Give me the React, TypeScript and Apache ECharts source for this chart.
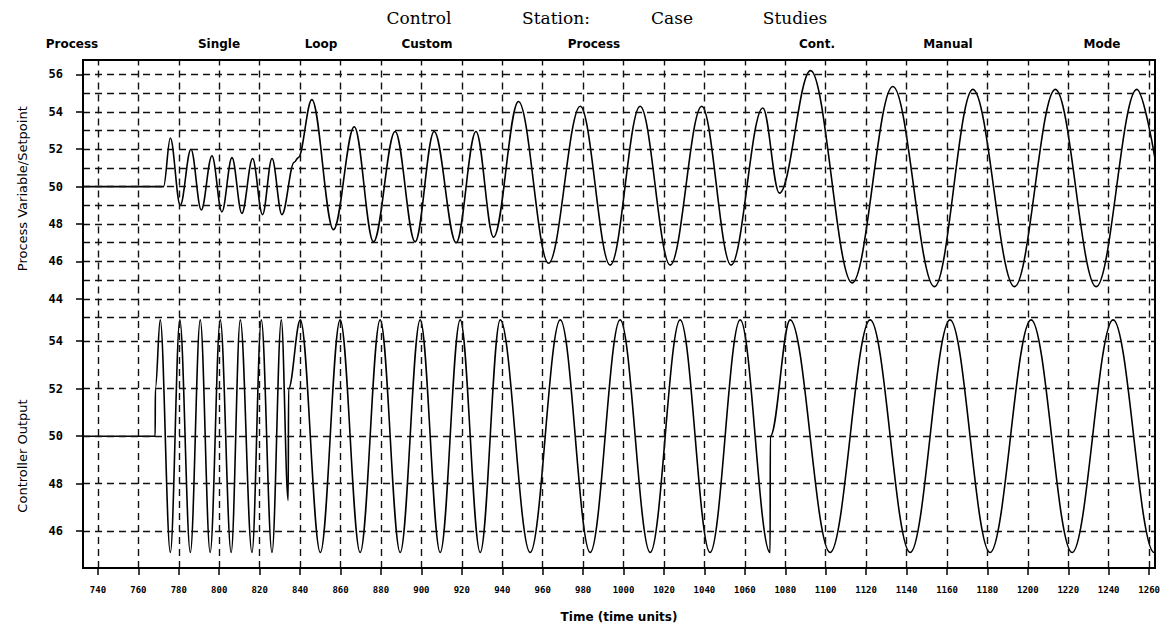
import { useEffect, useRef } from "react";
import * as echarts from "echarts";

// Time axis (time units)
const timeTicks = [
  740, 760, 780, 800, 820, 840, 860, 880, 900, 920, 940, 960, 980, 1000, 1020,
  1040, 1060, 1080, 1100, 1120, 1140, 1160, 1180, 1200, 1220, 1240, 1260,
];
const timeMin = 732.6;
const timeMax = 1262.9;

// Process variable / setpoint trace (upper panel)
const pvTime = [
  732.6, 772.45, 775.8, 780.7, 786.0, 791.1, 796.4, 801.3, 806.3, 811.2, 816.5,
  821.4, 826.1, 831.0, 837.1, 839.1, 845.8, 856.5, 866.8, 876.3, 887.0, 896.9,
  906.3, 917.2, 927.0, 935.7, 948.0, 962.9, 978.6, 993.4, 1008.2, 1023.1,
  1038.7, 1053.2, 1068.9, 1077.1, 1092.5, 1113.1, 1133.2, 1153.8, 1172.8,
  1193.4, 1213.6, 1233.8, 1253.9, 1262.9,
];
const pvValue = [
  50, 50, 52.6, 49.0, 52.0, 48.75, 51.65, 48.65, 51.55, 48.57, 51.5, 48.5,
  51.5, 48.5, 51.3, 51.55, 54.65, 47.7, 53.2, 47.05, 52.95, 47.05, 52.95, 47.0,
  52.95, 47.3, 54.55, 45.9, 54.3, 45.8, 54.3, 45.8, 54.3, 45.8, 54.2, 49.65,
  56.2, 44.85, 55.35, 44.65, 55.2, 44.65, 55.2, 44.65, 55.2, 51.5,
];

// Controller output trace (lower panel)
const coTime = [
  732.6, 768.3, 768.4, 770.8, 775.8, 780.5, 785.7, 790.6, 795.5, 800.5, 805.9,
  810.4, 816.2, 820.8, 826.1, 830.7, 834.1, 834.3, 840.1, 850.0, 859.8, 869.7,
  879.6, 889.5, 899.4, 909.3, 919.2, 929.1, 939.0, 953.8, 968.7, 983.5, 998.3,
  1013.2, 1028.0, 1042.8, 1057.7, 1072.5, 1072.6, 1082.4, 1102.2, 1122.0,
  1141.8, 1161.5, 1181.3, 1201.6, 1221.9, 1242.2, 1262.5, 1262.9,
];
const coValue = [
  50, 50, 52.0, 54.9, 45.1, 54.9, 45.1, 54.9, 45.1, 54.9, 45.1, 54.9, 45.1,
  54.9, 45.1, 54.9, 47.3, 52.0, 54.9, 45.1, 54.9, 45.1, 54.9, 45.1, 54.9, 45.1,
  54.9, 45.1, 54.9, 45.1, 54.9, 45.1, 54.9, 45.1, 54.9, 45.1, 54.9, 45.1, 50,
  54.9, 45.1, 54.9, 45.1, 54.9, 45.1, 54.9, 45.1, 54.9, 45.1, 45.1,
];

// Value-axis grid lines and labels
const pvGridValues = [43, 44, 45, 46, 47, 48, 49, 50, 51, 52, 53, 54, 55, 56];
const pvLabelValues = [44, 46, 48, 50, 52, 54, 56];
const pvMin = 43;
const pvMax = 56.77;
const coGridValues = [46, 48, 50, 52, 54];
const coLabelValues = [46, 48, 50, 52, 54];
const coMin = 44.45;
const coMax = 55;

// Header words
const titleWords = ["Control", "Station:", "Case", "Studies"];
const subtitleWords = ["Process", "Single", "Loop", "Custom", "Process"];
const modeWords = ["Cont.", "Manual", "Mode"];

// Layout (px)
const W = 1176;
const H = 628;
const PLOT_LEFT = 83;
const PLOT_RIGHT = 1155;
const PLOT_TOP = 60;
const PANEL_SPLIT = 317.5;
const PLOT_BOTTOM = 568;
const titleX = [419, 556, 672, 795];
const subtitleX = [72, 219, 321, 427, 594];
const modeX = [817, 948, 1102];

const INK = "#000";
const gridDash = { type: [7, 5] as number[], color: "#111", width: 1.4 };

const tickLabelFont = {
  fontFamily: "DejaVu Sans Mono",
  fontWeight: "bold" as const,
  color: INK,
};

function gridMarks(yValues: number[]) {
  return {
    silent: true,
    symbol: ["none", "none"],
    label: { show: false },
    emphasis: { disabled: true },
    lineStyle: gridDash,
    data: [
      ...timeTicks.map((t) => ({ xAxis: t })),
      ...yValues.map((v) => ({ yAxis: v })),
    ],
  };
}

function wordTexts(words: string[], xs: number[], y: number, font: string) {
  return words.map((w, i) => ({
    type: "text",
    x: xs[i],
    y,
    style: {
      text: w,
      font,
      fill: INK,
      textAlign: "center",
      textVerticalAlign: "middle",
    },
  }));
}

export default function App() {
  const ref = useRef<HTMLDivElement>(null);

  useEffect(() => {
    if (!ref.current) return;
    const chart = echarts.init(ref.current, undefined, { renderer: "svg" });

    const upperHeight = PANEL_SPLIT - PLOT_TOP;
    const lowerHeight = PLOT_BOTTOM - PANEL_SPLIT;

    chart.setOption({
      animation: false,
      backgroundColor: "#fff",
      grid: [
        {
          left: PLOT_LEFT,
          right: W - PLOT_RIGHT,
          top: PLOT_TOP,
          height: upperHeight,
        },
        {
          left: PLOT_LEFT,
          right: W - PLOT_RIGHT,
          top: PANEL_SPLIT,
          height: lowerHeight,
        },
      ],
      xAxis: [
        {
          gridIndex: 0,
          type: "value",
          min: timeMin,
          max: timeMax,
          axisLine: { show: false },
          axisTick: { show: false },
          axisLabel: { show: false },
          splitLine: { show: false },
        },
        {
          gridIndex: 1,
          type: "value",
          min: timeMin,
          max: timeMax,
          axisLine: { show: false },
          axisTick: {
            show: true,
            length: 7,
            customValues: timeTicks,
            lineStyle: { color: INK, width: 1.5 },
          },
          axisLabel: {
            customValues: timeTicks,
            formatter: (v: number) => String(v),
            margin: 17,
            fontSize: 9,
            ...tickLabelFont,
          },
          splitLine: { show: false },
        },
      ],
      yAxis: [
        {
          gridIndex: 0,
          type: "value",
          min: pvMin,
          max: pvMax,
          axisLine: { show: false },
          axisTick: {
            show: true,
            length: 7,
            customValues: pvLabelValues,
            lineStyle: { color: INK, width: 1.5 },
          },
          axisLabel: {
            customValues: pvLabelValues,
            formatter: (v: number) => String(v),
            margin: 20,
            fontSize: 12,
            ...tickLabelFont,
          },
          splitLine: { show: false },
        },
        {
          gridIndex: 1,
          type: "value",
          min: coMin,
          max: coMax,
          axisLine: { show: false },
          axisTick: {
            show: true,
            length: 7,
            customValues: coLabelValues,
            lineStyle: { color: INK, width: 1.5 },
          },
          axisLabel: {
            customValues: coLabelValues,
            formatter: (v: number) => String(v),
            margin: 20,
            fontSize: 12,
            ...tickLabelFont,
          },
          splitLine: { show: false },
        },
      ],
      series: [
        {
          name: "Process Variable/Setpoint",
          type: "line",
          xAxisIndex: 0,
          yAxisIndex: 0,
          data: pvTime.map((t, i) => [t, pvValue[i]]),
          showSymbol: false,
          smooth: 0.36,
          smoothMonotone: "x",
          lineStyle: { color: INK, width: 1.6 },
          z: 4,
          markLine: gridMarks(pvGridValues),
        },
        {
          name: "Controller Output",
          type: "line",
          xAxisIndex: 1,
          yAxisIndex: 1,
          data: coTime.map((t, i) => [t, coValue[i]]),
          showSymbol: false,
          smooth: 0.36,
          smoothMonotone: "x",
          lineStyle: { color: INK, width: 1.6 },
          z: 4,
          markLine: gridMarks(coGridValues),
        },
      ],
      graphic: [
        {
          type: "rect",
          shape: {
            x: PLOT_LEFT,
            y: PLOT_TOP,
            width: PLOT_RIGHT - PLOT_LEFT,
            height: PLOT_BOTTOM - PLOT_TOP,
          },
          style: { fill: "none", stroke: INK, lineWidth: 2 },
          z: 10,
        },
        ...wordTexts(titleWords, titleX, 18, "17px 'DejaVu Serif'"),
        ...wordTexts(subtitleWords, subtitleX, 44, "bold 12px 'DejaVu Sans'"),
        ...wordTexts(modeWords, modeX, 44, "bold 12px 'DejaVu Sans'"),
        {
          type: "text",
          x: 22,
          y: (PLOT_TOP + PANEL_SPLIT) / 2,
          rotation: Math.PI / 2,
          style: {
            text: "Process Variable/Setpoint",
            font: "13px 'DejaVu Sans'",
            fill: INK,
            textAlign: "center",
            textVerticalAlign: "middle",
          },
        },
        {
          type: "text",
          x: 22,
          y: 456,
          rotation: Math.PI / 2,
          style: {
            text: "Controller Output",
            font: "13px 'DejaVu Sans'",
            fill: INK,
            textAlign: "center",
            textVerticalAlign: "middle",
          },
        },
        {
          type: "text",
          x: (PLOT_LEFT + PLOT_RIGHT) / 2,
          y: 617,
          style: {
            text: "Time (time units)",
            font: "bold 12px 'DejaVu Sans'",
            fill: INK,
            textAlign: "center",
            textVerticalAlign: "middle",
          },
        },
      ],
    });

    return () => chart.dispose();
  }, []);

  return (
    <div
      ref={ref}
      style={{ position: "fixed", left: 0, top: 0, width: W, height: H }}
    />
  );
}
